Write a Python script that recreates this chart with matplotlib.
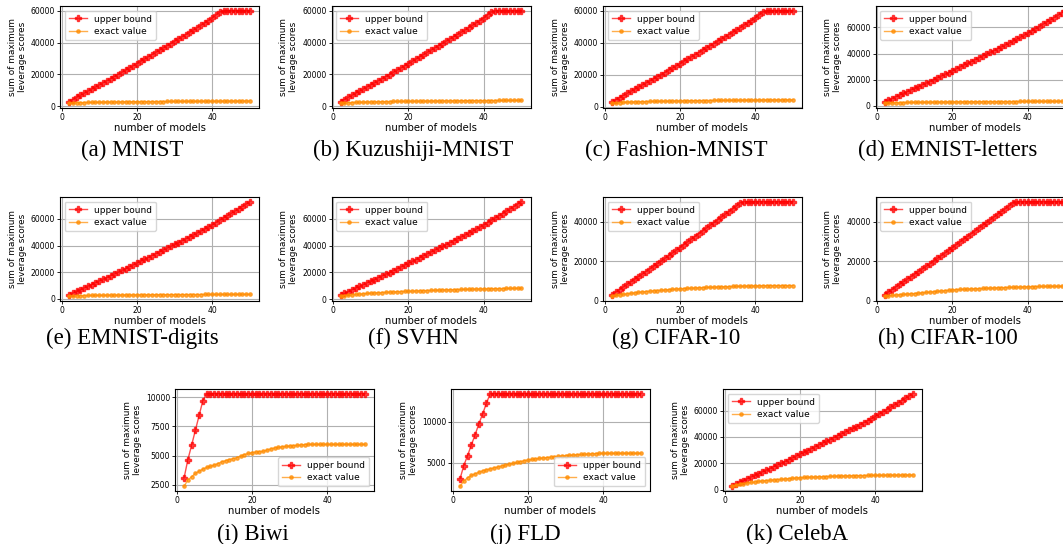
import numpy as np
import matplotlib.pyplot as plt
from matplotlib.ticker import MultipleLocator

# number of models on the x axis
models = np.arange(2, 51)

# upper bound series
ub_mnist = [3000, 4300, 5600, 6900, 8200, 9500, 10800, 12100, 13400, 14700,
            16000, 17300, 18600, 19950, 21300, 22650, 24000, 25400, 26800, 28200,
            29600, 31000, 32400, 33800, 35200, 36600, 38000, 39400, 40800, 42200,
            43600, 45000, 46400, 47800, 49300, 50800, 52300, 53800, 55400, 57300,
            59000, 60000, 60000, 60000, 60000, 60000, 60000, 60000, 60000]
ub_emnist = [3000, 4300, 5600, 6900, 8200, 9500, 10800, 12100, 13400, 14700,
             16000, 17300, 18600, 19950, 21300, 22650, 24000, 25400, 26800, 28200,
             29600, 31000, 32400, 33800, 35200, 36600, 38000, 39400, 40800, 42200,
             43600, 45000, 46400, 47800, 49300, 50800, 52300, 53800, 55500, 57200,
             58900, 60600, 62300, 64000, 65700, 67500, 69200, 71000, 72800]
ub_cifar = [3000, 4300, 5600, 6900, 8200, 9500, 10800, 12100, 13400, 14700,
            16000, 17300, 18600, 19950, 21300, 22650, 24000, 25400, 26800, 28200,
            29600, 31000, 32400, 33800, 35200, 36600, 38000, 39400, 40800, 42200,
            43600, 45000, 46400, 47800, 49500, 50000, 50000, 50000, 50000, 50000,
            50000, 50000, 50000, 50000, 50000, 50000, 50000, 50000, 50000]
ub_biwi = [3070, 4630, 5880, 7160, 8440, 9720, 10310] + [10310] * 42
ub_fld = [3065, 4680, 5890, 7180, 8430, 9760, 10970, 12260, 13430] + [13430] * 40

# exact value series
ex_mnist = [1900, 2100, 2250, 2350, 2420, 2480, 2530, 2580, 2620, 2660,
            2700, 2730, 2760, 2790, 2820, 2850, 2870, 2900, 2920, 2940,
            2960, 2980, 3000, 3020, 3040, 3060, 3070, 3090, 3100, 3120,
            3130, 3150, 3160, 3180, 3190, 3210, 3220, 3230, 3250, 3260,
            3270, 3290, 3300, 3310, 3320, 3340, 3350, 3360, 3370]
ex_kmnist = [1900, 2150, 2320, 2440, 2530, 2610, 2680, 2740, 2800, 2850,
             2900, 2950, 2990, 3030, 3070, 3110, 3140, 3170, 3200, 3230,
             3260, 3290, 3310, 3340, 3360, 3390, 3410, 3430, 3450, 3470,
             3490, 3510, 3530, 3550, 3570, 3590, 3600, 3620, 3640, 3650,
             3670, 3680, 3700, 3710, 3730, 3740, 3760, 3770, 3790]
ex_fashion = [2000, 2300, 2500, 2650, 2760, 2850, 2930, 3000, 3070, 3130,
              3190, 3240, 3290, 3340, 3380, 3420, 3460, 3500, 3540, 3570,
              3600, 3640, 3670, 3700, 3730, 3760, 3790, 3810, 3840, 3860,
              3880, 3900, 3920, 3940, 3960, 3980, 4000, 4020, 4040, 4060,
              4070, 4090, 4100, 4120, 4130, 4150, 4160, 4180, 4190]
ex_letters = [1900, 2120, 2270, 2380, 2460, 2530, 2590, 2640, 2690, 2730,
              2770, 2810, 2840, 2870, 2900, 2930, 2960, 2980, 3010, 3030,
              3050, 3080, 3100, 3120, 3140, 3160, 3180, 3200, 3210, 3230,
              3250, 3260, 3280, 3290, 3310, 3320, 3340, 3350, 3370, 3380,
              3390, 3410, 3420, 3430, 3440, 3460, 3470, 3480, 3490]
ex_digits = [2000, 2200, 2340, 2440, 2520, 2590, 2650, 2700, 2740, 2780,
             2820, 2850, 2880, 2910, 2940, 2970, 2990, 3010, 3040, 3060,
             3080, 3100, 3120, 3140, 3160, 3170, 3190, 3210, 3220, 3240,
             3250, 3270, 3280, 3300, 3310, 3320, 3340, 3350, 3360, 3370,
             3380, 3400, 3410, 3420, 3430, 3440, 3450, 3460, 3470]
ex_svhn = [2200, 2700, 3000, 3300, 3550, 3800, 4050, 4300, 4500, 4700,
           4850, 5000, 5150, 5300, 5450, 5600, 5750, 5880, 6000, 6100,
           6200, 6300, 6400, 6500, 6600, 6700, 6800, 6900, 6980, 7060,
           7140, 7220, 7300, 7380, 7450, 7520, 7590, 7650, 7710, 7770,
           7830, 7880, 7930, 7980, 8030, 8070, 8110, 8150, 8190]
ex_cifar10 = [2200, 2600, 2900, 3200, 3450, 3700, 3950, 4200, 4400, 4600,
              4780, 4950, 5100, 5250, 5400, 5550, 5700, 5850, 5980, 6100,
              6200, 6300, 6400, 6500, 6580, 6660, 6740, 6820, 6900, 6970,
              7040, 7100, 7160, 7220, 7280, 7330, 7380, 7430, 7470, 7510,
              7540, 7560, 7580, 7590, 7600, 7600, 7610, 7610, 7620]
ex_cifar100 = [2200, 2450, 2650, 2850, 3000, 3150, 3300, 3450, 3600, 3780,
               3960, 4140, 4320, 4500, 4680, 4860, 5040, 5220, 5400, 5560,
               5650, 5740, 5830, 5920, 6000, 6080, 6160, 6240, 6320, 6400,
               6470, 6540, 6610, 6680, 6750, 6820, 6890, 6960, 7030, 7080,
               7120, 7150, 7180, 7200, 7220, 7240, 7260, 7280, 7300]
ex_biwi = [2360, 2900, 3180, 3470, 3660, 3840, 3980, 4080, 4180, 4320,
           4460, 4560, 4650, 4740, 4820, 4950, 5080, 5180, 5260, 5300,
           5340, 5370, 5470, 5570, 5650, 5700, 5750, 5790, 5820, 5850,
           5880, 5910, 5940, 5960] + [5960] * 15
ex_fld = [2140, 2780, 3190, 3470, 3670, 3860, 4030, 4150, 4270, 4390,
          4500, 4620, 4730, 4840, 4940, 5050, 5150, 5260, 5360, 5420,
          5480, 5540, 5600, 5650, 5700, 5750, 5800, 5850, 5890, 5920,
          5960, 5990, 6020, 6050, 6080, 6100, 6130, 6150, 6170] + [6170] * 10
ex_celeba = [2500, 3300, 4000, 4560, 5000, 5450, 5850, 6250, 6600, 6880,
             7130, 7380, 7620, 7850, 8100, 8350, 8600, 8850, 9100, 9250,
             9380, 9500, 9620, 9740, 9850, 9960, 10060, 10160, 10260, 10340,
             10420, 10490, 10560, 10620, 10680, 10730, 10780, 10830, 10870, 10910,
             10940, 10970, 11000, 11020, 11040, 11060, 11080, 11090, 11100]

captions = ["(a) MNIST", "(b) Kuzushiji-MNIST", "(c) Fashion-MNIST", "(d) EMNIST-letters",
            "(e) EMNIST-digits", "(f) SVHN", "(g) CIFAR-10", "(h) CIFAR-100",
            "(i) Biwi", "(j) FLD", "(k) CelebA"]
upper = [ub_mnist, ub_mnist, ub_mnist, ub_emnist, ub_emnist, ub_emnist,
         ub_cifar, ub_cifar, ub_biwi, ub_fld, ub_emnist]
exact = [ex_mnist, ex_kmnist, ex_fashion, ex_letters, ex_digits, ex_svhn,
         ex_cifar10, ex_cifar100, ex_biwi, ex_fld, ex_celeba]

W, H = 1063, 544
fig = plt.figure(figsize=(W / 100, H / 100), dpi=100)

# axes boxes in pixels: left, top, bottom ; caption centre x, y
lefts = [60, 331.5, 603, 875.5] * 2 + [175, 451, 723]
tops = [6] * 4 + [197] * 4 + [389] * 3
bottoms = [108] * 4 + [301] * 4 + [491] * 3
cap_x = [132.5, 413, 676, 948] * 2 + [253, 525, 797]
cap_y = [150] * 4 + [338] * 4 + [534] * 3
ystep = [20000] * 8 + [2500, 5000, 20000]
leg_loc = ["upper left"] * 8 + ["lower right", "lower right", "upper left"]

for i in range(11):
    l, t, b = lefts[i], tops[i], bottoms[i]
    r = l + 199
    ax = fig.add_axes([l / W, 1 - b / H, (r - l) / W, (b - t) / H])
    ax.plot(models, upper[i], color="red", alpha=0.7, marker="P", markersize=3.8,
            linewidth=1.0, label="upper bound")
    ax.plot(models, exact[i], color="darkorange", alpha=0.7, marker="o", markersize=2.4,
            linewidth=1.0, label="exact value")
    ax.grid(True, color="#b0b0b0", linewidth=0.8)
    ax.set_axisbelow(True)
    ax.xaxis.set_major_locator(MultipleLocator(20))
    ax.yaxis.set_major_locator(MultipleLocator(ystep[i]))
    ax.tick_params(labelsize=5.5, length=2, width=0.6, pad=1.5)
    ax.set_xlabel("number of models", fontsize=7.3, labelpad=1)
    ax.set_ylabel("sum of maximum\nleverage scores", fontsize=6.4, labelpad=3,
                  linespacing=1.1)
    ax.legend(loc=leg_loc[i], fontsize=6.5, handlelength=2, borderpad=0.45,
              labelspacing=0.35)
    fig.text(cap_x[i] / W, 1 - cap_y[i] / H, captions[i], ha="center", va="center",
             fontsize=16.5, family="Liberation Serif")

fig.savefig("out.png", dpi=100)
